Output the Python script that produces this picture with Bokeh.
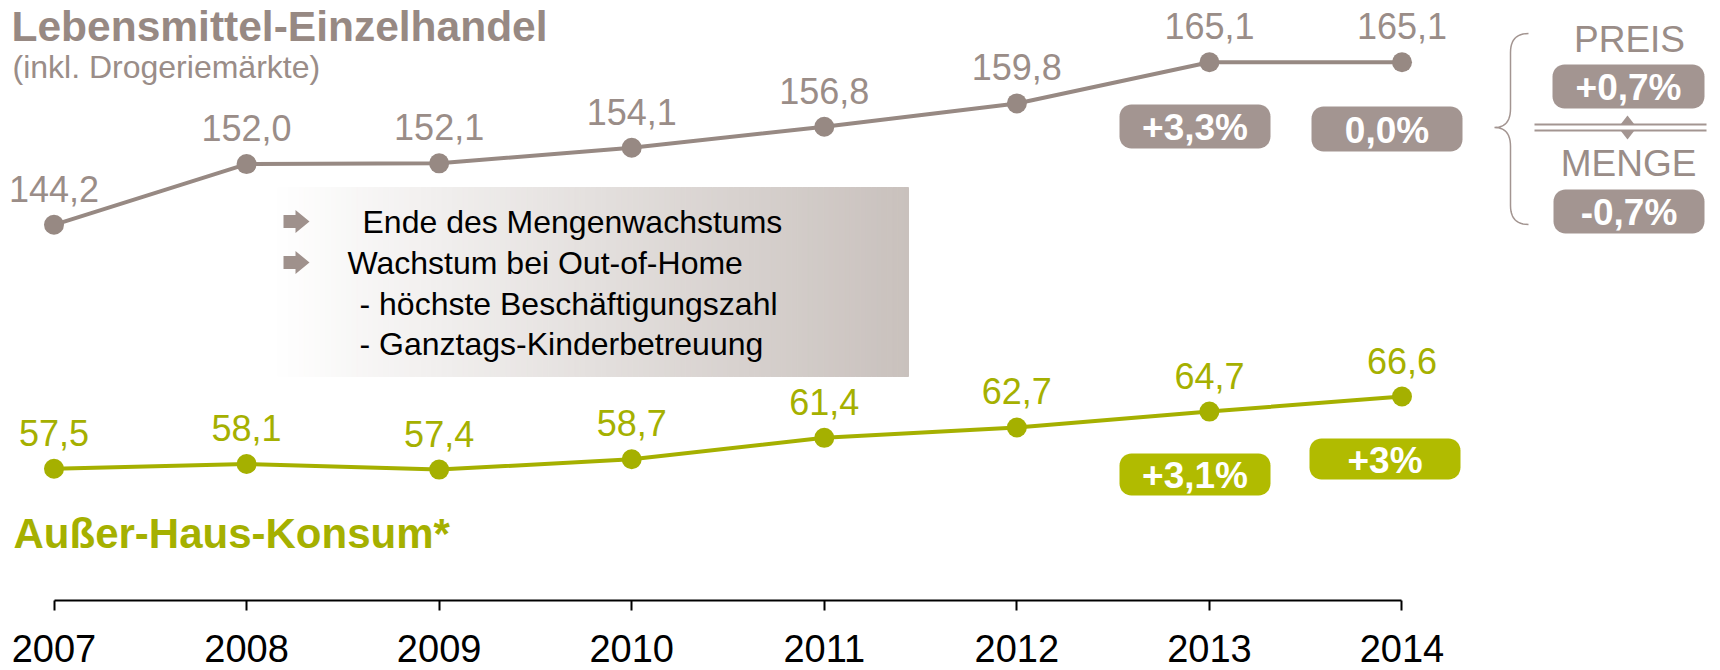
import math
from bokeh.plotting import figure
from bokeh.models import Range1d, LinearAxis, FixedTicker
from bokeh.core.properties import value
from bokeh.embed import file_html
from bokeh.resources import INLINE

# ---------------- data ----------------
years = [2007, 2008, 2009, 2010, 2011, 2012, 2013, 2014]
year_labels = ["2007", "2008", "2009", "2010", "2011", "2012", "2013", "2014"]

lebensmittel = [144.2, 152.0, 152.1, 154.1, 156.8, 159.8, 165.1, 165.1]
lebensmittel_labels = ["144,2", "152,0", "152,1", "154,1", "156,8", "159,8", "165,1", "165,1"]

ausser_haus = [57.5, 58.1, 57.4, 58.7, 61.4, 62.7, 64.7, 66.6]
ausser_haus_labels = ["57,5", "58,1", "57,4", "58,7", "61,4", "62,7", "64,7", "66,6"]

growth_leh = ["+3,3%", "0,0%"]
growth_ahk = ["+3,1%", "+3%"]
split_titles = ["PREIS", "MENGE"]
split_values = ["+0,7%", "-0,7%"]
notes = ["Ende des Mengenwachstums", "Wachstum bei Out-of-Home",
         "- höchste Beschäftigungszahl", "- Ganztags-Kinderbetreuung"]

title_top = "Lebensmittel-Einzelhandel"
subtitle_top = "(inkl. Drogeriemärkte)"
title_bottom = "Außer-Haus-Konsum*"

# ---------------- colours / fonts ----------------
C_BROWN = "#978983"
C_BROWN_TXT = "#9a8d88"
C_BADGE = "#a39591"
C_ARROW = "#9f918c"
C_GREEN = "#a5b000"
C_GREEN_BADGE = "#b1bb00"
FONT = value("Liberation Sans")

# ---------------- geometry ----------------
W, H = 1720, 670
FRAME_H = 670
AXIS_Y = 600          # pixel row of the x-axis line
PX_2007 = 53.5
PX_YEAR = 192.57
x0 = 2007 - PX_2007 / PX_YEAR
x1 = x0 + W / PX_YEAR

PPU_UP = 7.78
up_top = 165.1 + 61.7 / PPU_UP
up_bot = up_top - FRAME_H / PPU_UP
PPU_LO = 7.945
lo_top = 66.6 + 396 / PPU_LO
lo_bot = lo_top - FRAME_H / PPU_LO


def X(px):
    return x0 + px / PX_YEAR


def Y(py):
    return up_top - py / PPU_UP


def mid(baseline, size):
    # vertical centre of capitals for a given baseline and font size
    return baseline - 0.358 * size


p = figure(width=W, height=H, x_range=Range1d(x0, x1), y_range=Range1d(up_bot, up_top),
           output_backend="svg", toolbar_location=None,
           x_axis_type=None, y_axis_type=None,
           min_border_left=0, min_border_right=0, min_border_top=0, min_border_bottom=0)
p.extra_y_ranges = {"low": Range1d(lo_bot, lo_top)}
p.outline_line_color = None
p.background_fill_color = "white"
p.border_fill_color = "white"

# ---------------- gradient note box ----------------
gl, gr, gt, gb = 272, 908, 187, 376
N = 120
c0 = (255, 255, 255)
c1 = (201, 193, 189)
lefts, rights, cols = [], [], []
for i in range(N):
    a = gl + (gr - gl) * i / N
    b = gl + (gr - gl) * (i + 1) / N
    f = (i + 0.5) / N
    col = "#%02x%02x%02x" % tuple(int(round(c0[k] + (c1[k] - c0[k]) * f)) for k in range(3))
    lefts.append(X(a))
    rights.append(X(b))
    cols.append(col)
p.quad(left=lefts, right=rights, top=Y(gt), bottom=Y(gb), fill_color=cols, line_color=cols, line_width=1)


def arrow(cx, cy):
    pts = [(cx - 13, cy - 6.5), (cx - 1, cy - 6.5), (cx - 1, cy - 11.5), (cx + 13, cy),
           (cx - 1, cy + 11.5), (cx - 1, cy + 6.5), (cx - 13, cy + 6.5)]
    return [X(a) for a, _ in pts], [Y(b) for _, b in pts]


note_y = [221, 262, 303, 343]
note_x = [362, 347, 359, 359]
axs, ays = [], []
for cy in note_y[:2]:
    xs_, ys_ = arrow(296, cy)
    axs.append(xs_)
    ays.append(ys_)
p.patches(axs, ays, fill_color=C_ARROW, line_color=None)
p.text(x=[X(v) for v in note_x], y=[Y(v) for v in note_y], text=notes,
       text_font=FONT, text_font_size="32px", text_color="black",
       text_align="left", text_baseline="middle")

# ---------------- series ----------------
p.line(years, lebensmittel, line_color=C_BROWN, line_width=4)
p.scatter(years, lebensmittel, size=20, fill_color=C_BROWN, line_color=None)
p.text(years, lebensmittel, text=lebensmittel_labels, y_offset=-36,
       text_font=FONT, text_font_size="36px", text_color=C_BROWN_TXT,
       text_align="center", text_baseline="middle")

p.line(years, ausser_haus, line_color=C_GREEN, line_width=4, y_range_name="low")
p.scatter(years, ausser_haus, size=20, fill_color=C_GREEN, line_color=None, y_range_name="low")
p.text(years, ausser_haus, text=ausser_haus_labels, y_offset=-36, y_range_name="low",
       text_font=FONT, text_font_size="36px", text_color=C_GREEN,
       text_align="center", text_baseline="middle")

# ---------------- titles ----------------
p.text(x=[X(11)], y=[Y(mid(41, 42.5))], text=[title_top], text_font=FONT, text_font_size="42.5px",
       text_font_style="bold", text_color=C_BROWN, text_baseline="middle")
p.text(x=[X(12)], y=[Y(mid(78, 32))], text=[subtitle_top], text_font=FONT, text_font_size="32px",
       text_color=C_BROWN_TXT, text_baseline="middle")
p.text(x=[X(13)], y=[Y(mid(548, 42))], text=[title_bottom], text_font=FONT, text_font_size="42px",
       text_font_style="bold", text_color=C_GREEN, text_baseline="middle")


# ---------------- badges ----------------
def rrect(l, t, r, b, rad=12, n=8):
    pts = []
    for cx, cy, a0 in [(r - rad, t + rad, -90), (r - rad, b - rad, 0),
                       (l + rad, b - rad, 90), (l + rad, t + rad, 180)]:
        for k in range(n + 1):
            a = math.radians(a0 + 90 * k / n)
            pts.append((cx + rad * math.cos(a), cy + rad * math.sin(a)))
    return [X(a) for a, _ in pts], [Y(b) for _, b in pts]


badges = [
    ((1119, 104, 1270, 148), growth_leh[0], C_BADGE),
    ((1311, 106, 1462, 151), growth_leh[1], C_BADGE),
    ((1552, 64, 1704, 108), split_values[0], C_BADGE),
    ((1553, 189, 1704, 233), split_values[1], C_BADGE),
    ((1119, 453, 1270, 495), growth_ahk[0], C_GREEN_BADGE),
    ((1309, 438, 1460, 479), growth_ahk[1], C_GREEN_BADGE),
]
bxs, bys, bcols, tx, ty, tt = [], [], [], [], [], []
for (l, t, r, b), txt, col in badges:
    xs_, ys_ = rrect(l, t, r, b)
    bxs.append(xs_)
    bys.append(ys_)
    bcols.append(col)
    tx.append(X((l + r) / 2))
    ty.append(Y((t + b) / 2 + 1))
    tt.append(txt)
p.patches(bxs, bys, fill_color=bcols, line_color=None)
p.text(tx, ty, text=tt, text_font=FONT, text_font_size="37px", text_font_style="bold",
       text_color="white", text_align="center", text_baseline="middle")


# ---------------- brace + split ----------------
def quad_bez(p0, c, p1, n=12):
    out = []
    for k in range(n + 1):
        t = k / n
        out.append(((1 - t) ** 2 * p0[0] + 2 * (1 - t) * t * c[0] + t * t * p1[0],
                    (1 - t) ** 2 * p0[1] + 2 * (1 - t) * t * c[1] + t * t * p1[1]))
    return out


brace = []
brace += quad_bez((1528, 33), (1510, 33), (1510, 52))
brace += quad_bez((1510, 108), (1510, 127), (1494, 127))
brace += quad_bez((1494, 127), (1510, 127), (1510, 146))
brace += quad_bez((1510, 205), (1510, 224), (1528, 224))
p.line([X(a) for a, _ in brace], [Y(b) for _, b in brace], line_color=C_BADGE, line_width=1.5)

p.multi_line([[X(1534), X(1706)], [X(1534), X(1706)]], [[Y(124), Y(124)], [Y(130), Y(130)]],
             line_color=C_BADGE, line_width=2)
p.patches([[X(1620), X(1634), X(1627)], [X(1620), X(1634), X(1627)]],
          [[Y(124), Y(124), Y(115)], [Y(130), Y(130), Y(139)]],
          fill_color=C_BADGE, line_color=None)
p.text([X(1629), X(1628)], [Y(mid(52, 37)), Y(mid(176, 37))], text=split_titles, text_font=FONT,
       text_font_size="37px", text_color=C_BROWN_TXT, text_align="center",
       text_baseline="middle")

# ---------------- x axis ----------------
xaxis = LinearAxis(ticker=FixedTicker(ticks=years), bounds=(2007, 2014),
                   fixed_location=Y(AXIS_Y),
                   major_label_overrides={y: l for y, l in zip(years, year_labels)})
xaxis.axis_line_color = "black"
xaxis.axis_line_width = 2
xaxis.major_tick_line_color = "black"
xaxis.major_tick_line_width = 2
xaxis.major_tick_in = 0
xaxis.major_tick_out = 10
xaxis.minor_tick_line_color = None
xaxis.major_label_text_font = "Liberation Sans"
xaxis.major_label_text_font_size = "38px"
xaxis.major_label_text_color = "black"
xaxis.major_label_standoff = 24
p.add_layout(xaxis, "below")

open("out.html", "w").write(file_html(p, INLINE))
